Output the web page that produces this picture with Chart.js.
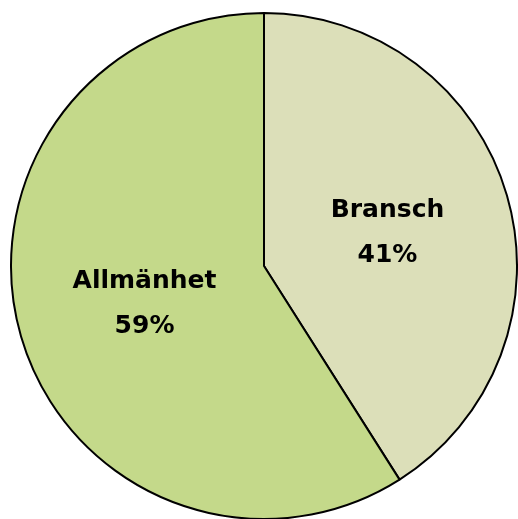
<!DOCTYPE html>
<html>
<head>
<meta charset="utf-8">
<script src="https://cdn.jsdelivr.net/npm/chart.js@4/dist/chart.umd.min.js"></script>
<style>
  html, body { margin: 0; padding: 0; background: #fff; overflow: hidden; }
  #wrap { position: absolute; left: 0; top: 0; width: 518px; height: 520px; }
</style>
</head>
<body>
<div id="wrap"><canvas id="pieChart"></canvas></div>
<script>
// Data
const categories = ['Bransch', 'Allmänhet'];
const shares = [41, 59];
const sliceColors = ['#dcdfb9', '#c4d98a'];

// Draw "name\nNN%" at the middle of each slice
const sliceLabels = {
    id: 'sliceLabels',
    afterDatasetsDraw(chart) {
        const ctx = chart.ctx;
        const meta = chart.getDatasetMeta(0);
        ctx.save();
        ctx.font = 'bold 25px "DejaVu Sans"';
        ctx.fillStyle = '#000';
        ctx.textAlign = 'center';
        ctx.textBaseline = 'middle';
        meta.data.forEach((arc, i) => {
            const pos = arc.tooltipPosition();
            ctx.fillText(chart.data.labels[i], pos.x + 2, pos.y - 20);
            ctx.fillText(chart.data.datasets[0].data[i] + '%', pos.x + 2, pos.y + 25);
        });
        ctx.restore();
    }
};

new Chart(document.getElementById('pieChart'), {
    type: 'pie',
    data: {
        labels: categories,
        datasets: [{
            data: shares,
            backgroundColor: sliceColors,
            borderColor: '#000',
            borderWidth: 2
        }]
    },
    options: {
        responsive: true,
        maintainAspectRatio: false,
        animation: false,
        layout: { padding: { left: 10, right: 0, top: 12, bottom: 0 } },
        plugins: {
            legend: { display: false },
            tooltip: { enabled: false }
        }
    },
    plugins: [sliceLabels]
});
</script>
</body>
</html>
